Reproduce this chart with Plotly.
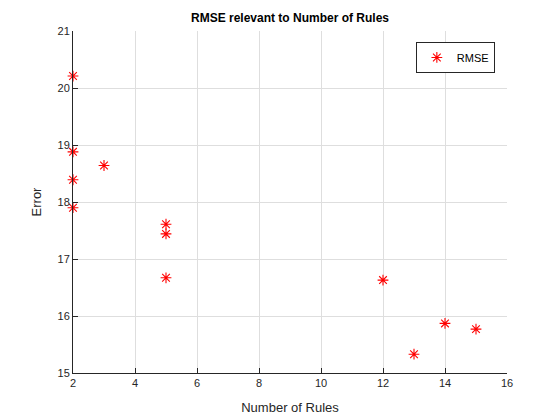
import plotly.graph_objects as go

# number of rules vs RMSE
rules = [2, 2, 2, 2, 3, 5, 5, 5, 12, 13, 14, 15]
rmse = [20.21, 18.88, 18.39, 17.90, 18.64, 17.61, 17.44, 16.67, 16.63, 15.33, 15.87, 15.77]

fig = go.Figure()
fig.add_trace(go.Scatter(
    x=rules, y=rmse, mode='markers', name='RMSE', cliponaxis=False,
    marker=dict(symbol='asterisk-open', color='red', size=9,
                line=dict(color='red', width=1.1))
))

axis_style = dict(
    showgrid=True, gridcolor='#dedede', gridwidth=1, automargin=False,
    zeroline=False, showline=True, linecolor='#262626', linewidth=1,
    mirror=False, ticks='inside', ticklen=5, tickcolor='#262626',
    tickfont=dict(size=11, color='#262626'),
)

# page body adds an 8px offset, margins are shifted to compensate
fig.update_layout(
    width=560, height=420,
    paper_bgcolor='white', plot_bgcolor='white',
    font=dict(family='Arial, Liberation Sans, sans-serif', color='#262626'),
    margin=dict(l=65, r=61, t=23, b=55),
    title=dict(text='<b>RMSE relevant to Number of Rules</b>', x=0.5, xanchor='center',
               xref='paper', y=0.976, yanchor='middle', font=dict(size=12, color='black')),
    xaxis=dict(range=[2, 16], dtick=2,
               title=dict(text='Number of Rules', font=dict(size=13), standoff=14),
               **axis_style),
    yaxis=dict(range=[15, 21], dtick=1,
               title=dict(text='Error', font=dict(size=13), standoff=12),
               **axis_style),
    showlegend=True,
    legend=dict(x=0.972, y=0.968, xanchor='right', yanchor='top',
                bgcolor='white', bordercolor='#262626', borderwidth=1,
                font=dict(size=11, color='black')),
)

fig.write_html("out.html")
